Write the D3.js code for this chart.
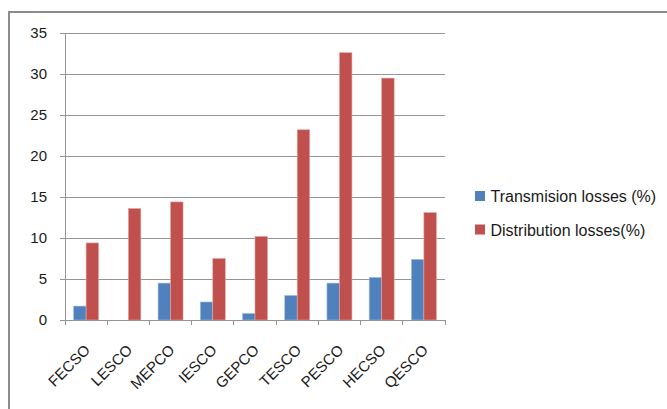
<!DOCTYPE html>
<html><head><meta charset="utf-8">
<script src="https://cdn.jsdelivr.net/npm/d3@7"></script>
<style>body{margin:0;background:#fff}svg{display:block}</style>
</head><body>
<svg id="c" width="667" height="409"></svg>
<script>
const categories = ["FECSO","LESCO","MEPCO","IESCO","GEPCO","TESCO","PESCO","HECSO","QESCO"];
const transmission = [1.7, 0, 4.5, 2.2, 0.8, 3.0, 4.5, 5.2, 7.4];
const distribution = [9.4, 13.6, 14.4, 7.5, 10.2, 23.2, 32.6, 29.5, 13.1];
const seriesNames = ["Transmision losses (%)", "Distribution losses(%)"];
const colors = ["#4F81BD", "#C0504D"];
const yTicks = [0,5,10,15,20,25,30,35];

const svg = d3.select("#c");
const font = "'Liberation Sans', Arial, sans-serif";
// outer frame
svg.append("rect").attr("x",9).attr("y",12).attr("width",700).attr("height",450)
  .attr("fill","none").attr("stroke","#8c8c8c").attr("stroke-width",2);

const x0 = 65, x1 = 445, yTop = 33, yBot = 320;
const x = d3.scaleBand().domain(categories).range([x0,x1]);
const y = d3.scaleLinear().domain([0,35]).range([yBot,yTop]);

// gridlines
svg.append("g").selectAll("line").data(yTicks).join("line")
  .attr("x1",x0-5).attr("x2",x1).attr("y1",d=>y(d)).attr("y2",d=>y(d))
  .attr("stroke","#959595").attr("stroke-width",1).attr("shape-rendering","crispEdges");
// y axis line
svg.append("line").attr("x1",x0).attr("x2",x0).attr("y1",yTop).attr("y2",yBot)
  .attr("stroke","#959595").attr("shape-rendering","crispEdges");
// y labels
svg.append("g").selectAll("text").data(yTicks).join("text")
  .attr("x",47).attr("y",d=>y(d)).attr("dy","0.35em").attr("text-anchor","end")
  .attr("font-family",font).attr("font-size",15).attr("fill","#1a1a1a").text(d=>d);

// bars
const bw = 12.5;
const series = [transmission, distribution];
series.forEach((vals,si)=>{
  svg.append("g").selectAll("rect").data(vals).join("rect")
    .attr("x",(d,i)=>x(categories[i]) + x.bandwidth()/2 - bw + si*bw)
    .attr("width",bw)
    .attr("y",d=>y(d)).attr("height",d=>yBot-y(d))
    .attr("fill",colors[si])
    .attr("stroke", si===1 ? "#e8a5a3" : "#a9c1e0").attr("stroke-width",0.6);
});

// x axis
svg.append("line").attr("x1",x0).attr("x2",x1).attr("y1",yBot).attr("y2",yBot)
  .attr("stroke","#959595").attr("shape-rendering","crispEdges");
const tickXs = categories.map(c=>x(c)).concat([x1]);
svg.append("g").selectAll("line").data(tickXs).join("line")
  .attr("x1",d=>d).attr("x2",d=>d).attr("y1",yBot).attr("y2",yBot+5)
  .attr("stroke","#959595").attr("shape-rendering","crispEdges");
svg.append("g").selectAll("text").data(categories).join("text")
  .attr("transform",d=>`translate(${x(d)+x.bandwidth()/2+5},${yBot+31}) rotate(-45)`)
  .attr("text-anchor","end")
  .attr("font-family",font).attr("font-size",15).attr("fill","#1a1a1a").text(d=>d);

// legend
const lg = svg.append("g");
seriesNames.forEach((n,i)=>{
  const ly = 202 + i*33.5;
  lg.append("rect").attr("x",475).attr("y",ly-11).attr("width",10).attr("height",10).attr("fill",colors[i]);
  lg.append("text").attr("x",490.5).attr("y",ly).attr("font-family",font).attr("font-size",16)
    .attr("fill","#1a1a1a").text(n);
});
</script>
</body></html>
